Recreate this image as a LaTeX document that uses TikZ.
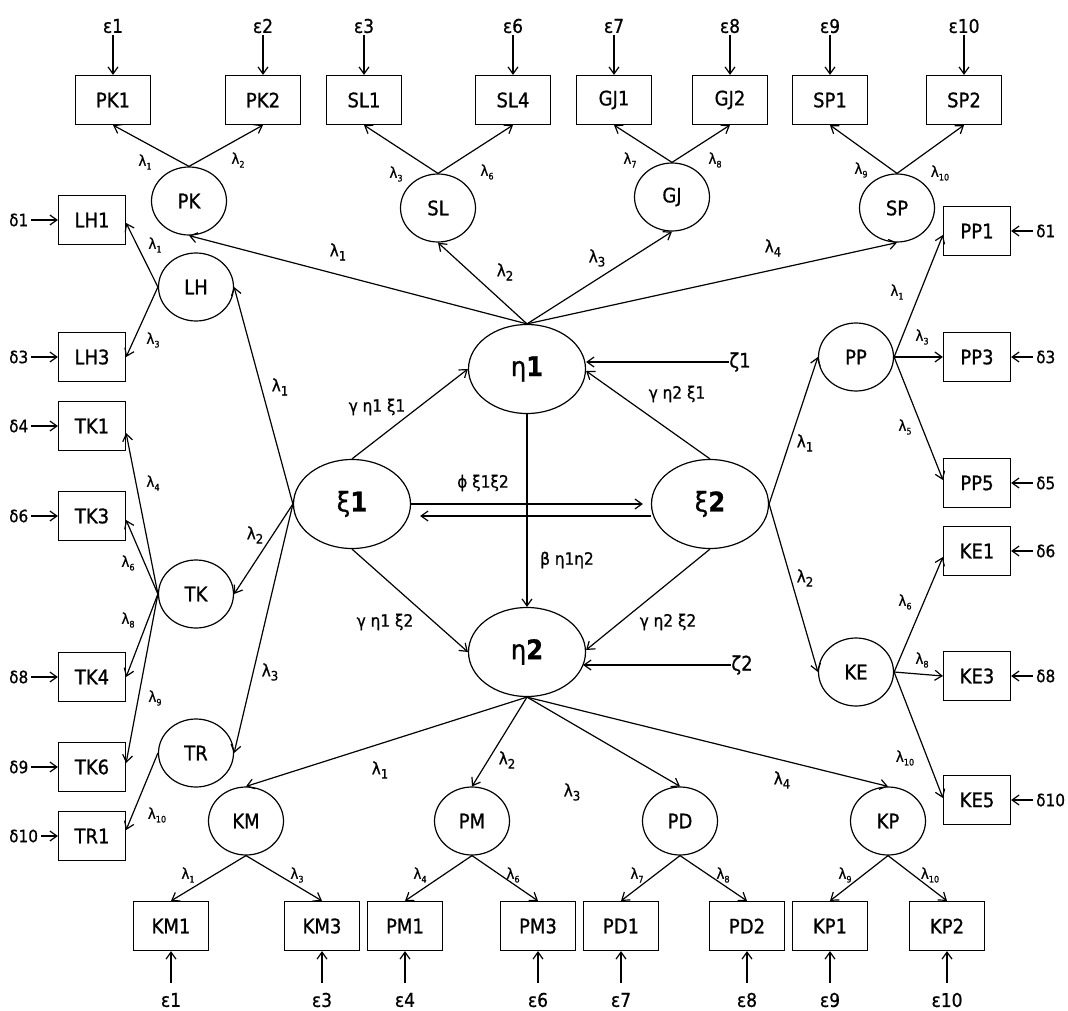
\documentclass[tikz,border=0pt]{standalone}
\usepackage{fontspec}
\setmainfont{DejaVu Sans}[FakeStretch=0.9,FakeBold=0.8]
\usetikzlibrary{shapes.geometric,arrows.meta}
% loading label: lambda with a lowered index
\newcommand\lm[2][9]{λ\raisebox{-0.45ex}{\fontsize{#1}{#1}\selectfont #2}}
\begin{document}
\begin{tikzpicture}[x=1pt,y=-1pt,
  every node/.style={inner sep=0pt, text=black},
  ind/.style={draw, rectangle, line width=1.2pt, minimum width=67pt, minimum height=49pt, font=\fontsize{20}{24}\selectfont},
  indw/.style={ind, minimum width=75pt},
  lat/.style={draw, ellipse, line width=1.2pt, minimum width=75pt, minimum height=68pt, font=\fontsize{20}{24}\selectfont},
  core/.style={draw, ellipse, line width=1.2pt, minimum width=117pt, minimum height=89pt, font=\fontsize{27}{31}\selectfont},
  eps/.style={font=\fontsize{19}{22}\selectfont},
  dlt/.style={font=\fontsize{17}{20}\selectfont},
  lam/.style={font=\fontsize{15}{18}\selectfont},
  lamb/.style={font=\fontsize{17}{20}\selectfont},
  coef/.style={font=\fontsize{17}{20}\selectfont},
  arr/.style={draw, line width=1.2pt, -{Straight Barb[length=7pt,width=10pt]}},
]
\useasboundingbox[fill=white] (0,0) rectangle (1068,1011);

% ---------- structural latent variables ----------
\node[core] (E1) at (527,369) {η\textbf{1}};
\node[core] (E2) at (527,652) {η\textbf{2}};
\node[core] (X1) at (352,504) {ξ\textbf{1}};
\node[core] (X2) at (710,504) {ξ\textbf{2}};
\node[font=\fontsize{20}{24}\selectfont] (Z1) at (740,362) {ζ1};
\node[font=\fontsize{20}{24}\selectfont] (Z2) at (742,665) {ζ2};

% ---------- first-order latent variables ----------
\node[lat] (PK) at (189,201) {PK};
\node[lat] (SL) at (438,208) {SL};
\node[lat] (GJ) at (672,197) {GJ};
\node[lat] (SP) at (897,208) {SP};
\node[lat] (LH) at (196,287) {LH};
\node[lat] (TK) at (196,594) {TK};
\node[lat] (TR) at (196,753) {TR};
\node[lat] (PP) at (856,357) {PP};
\node[lat] (KE) at (856,672) {KE};
\node[lat] (KM) at (246,821) {KM};
\node[lat] (PM) at (472,821) {PM};
\node[lat] (PD) at (680,821) {PD};
\node[lat] (KP) at (888,821) {KP};

% ---------- indicators: top row ----------
\node[indw] (PK1) at (113,100) {PK1};
\node[indw] (PK2) at (263,100) {PK2};
\node[indw] (SL1) at (364,100) {SL1};
\node[indw] (SL4) at (513,100) {SL4};
\node[indw] (GJ1) at (614,100) {GJ1};
\node[indw] (GJ2) at (730,100) {GJ2};
\node[indw] (SP1) at (830,100) {SP1};
\node[indw] (SP2) at (964,100) {SP2};

% ---------- indicators: left column ----------
\node[ind] (LH1) at (92,220) {LH1};
\node[ind] (LH3) at (92,357) {LH3};
\node[ind] (TK1) at (92,426) {TK1};
\node[ind] (TK3) at (92,516) {TK3};
\node[ind] (TK4) at (92,677) {TK4};
\node[ind] (TK6) at (92,767) {TK6};
\node[ind] (TR1) at (92,836) {TR1};

% ---------- indicators: right column ----------
\node[ind] (PP1) at (977,231) {PP1};
\node[ind] (PP3) at (977,357) {PP3};
\node[ind] (PP5) at (977,483) {PP5};
\node[ind] (KE1) at (977,551) {KE1};
\node[ind] (KE3) at (977,676) {KE3};
\node[ind] (KE5) at (977,800) {KE5};

% ---------- indicators: bottom row ----------
\node[indw] (KM1) at (171,926) {KM1};
\node[indw] (KM3) at (322,926) {KM3};
\node[indw] (PM1) at (405,926) {PM1};
\node[indw] (PM3) at (538,926) {PM3};
\node[indw] (PD1) at (621,926) {PD1};
\node[indw] (PD2) at (747,926) {PD2};
\node[indw] (KP1) at (830,926) {KP1};
\node[indw] (KP2) at (947,926) {KP2};

% ---------- error terms ----------
\foreach \b/\t in {PK1/1,PK2/2,SL1/3,SL4/6,GJ1/7,GJ2/8,SP1/9,SP2/10}{
  \node[eps] (et\b) at ([yshift=74pt]\b.center) {ε\t};
  \draw[arr, shorten <=2pt] (et\b) -- (\b);
}
\foreach \b/\t in {KM1/1,KM3/3,PM1/4,PM3/6,PD1/7,PD2/8,KP1/9,KP2/10}{
  \node[eps] (eb\b) at ([yshift=-74pt]\b.center) {ε\t};
  \draw[arr, shorten <=10pt] (eb\b) -- (\b);
}
\foreach \b/\t in {LH1/1,LH3/3,TK1/4,TK3/6,TK4/8,TK6/9,TR1/10}{
  \node[dlt, anchor=west] (dl\b) at ([xshift=-83pt]\b.center) {δ\t};
  \draw[arr, shorten <=3pt] (dl\b) -- (\b);
}
\foreach \b/\t in {PP1/1,PP3/3,PP5/5,KE1/6,KE3/8,KE5/10}{
  \node[dlt, anchor=west] (dr\b) at ([xshift=59pt]\b.center) {δ\t};
  \draw[arr, shorten <=3pt] (dr\b) -- (\b);
}

% ---------- structural paths ----------
\draw[arr] (X1.north) -- (E1.west);
\draw[arr] (X2.north) -- ([yshift=-2pt]E1.east);
\draw[arr] (X1.south) -- (E2.west);
\draw[arr] (X2.south) -- ([yshift=2pt]E2.east);
\draw[arr] (E1.south) -- (E2.north);
\draw[arr] (Z1.west) -- (Z1 -| E1.east);
\draw[arr] (Z2.west) -- ([xshift=-3pt]Z2 -| E2.east);
\draw[arr, shorten >=8pt] (X1.east) -- (X1.east -| X2.west);
\draw[arr, shorten >=9pt] ([yshift=-12pt]X2.west) -- ([yshift=-12pt]X2.west -| X1.east);

\node[coef] at (377,407) {γ η1 ξ1};
\node[coef] at (677,394) {γ η2 ξ1};
\node[coef] at (483,483) {ϕ ξ1ξ2};
\node[coef] at (567,560) {β η1η2};
\node[coef] at (385,622) {γ η1 ξ2};
\node[coef] at (668,622) {γ η2 ξ2};

% ---------- second-order loadings ----------
\draw[arr] (E1.north) -- (PK.south);
\draw[arr] (E1.north) -- (SL.south);
\draw[arr] (E1.north) -- (GJ.south);
\draw[arr] (E1.north) -- (SP.south);
\draw[arr] (X1.west) -- (LH.east);
\draw[arr] (X1.west) -- (TK.east);
\draw[arr] (X1.west) -- (TR.east);
\draw[arr] (X2.east) -- (PP.west);
\draw[arr] (X2.east) -- (KE.west);
\draw[arr] (E2.south) -- (KM.north);
\draw[arr] (E2.south) -- (PM.north);
\draw[arr] (E2.south) -- (PD.north);
\draw[arr] (E2.south) -- (KP.north);

\node[lamb] at (338,252) {\lm[13]{1}};
\node[lamb] at (505,272) {\lm[13]{2}};
\node[lamb] at (597,258) {\lm[13]{3}};
\node[lamb] at (773,248) {\lm[13]{4}};
\node[lamb] at (280,387) {\lm[13]{1}};
\node[lamb] at (255,535) {\lm[13]{2}};
\node[lamb] at (270,672) {\lm[13]{3}};
\node[lamb] at (805,443) {\lm[13]{1}};
\node[lamb] at (805,578) {\lm[13]{2}};
\node[lamb] at (380,770) {\lm[13]{1}};
\node[lamb] at (507,760) {\lm[13]{2}};
\node[lamb] at (572,792) {\lm[13]{3}};
\node[lamb] at (782,780) {\lm[13]{4}};

% ---------- first-order loadings ----------
\draw[arr] (PK.north) -- (PK1.south);
\draw[arr] (PK.north) -- (PK2.south);
\draw[arr] (SL.north) -- (SL1.south);
\draw[arr] (SL.north) -- (SL4.south);
\draw[arr] (GJ.north) -- (GJ1.south);
\draw[arr] (GJ.north) -- (GJ2.south);
\draw[arr] (SP.north) -- (SP1.south);
\draw[arr] (SP.north) -- (SP2.south);
\draw[arr] (LH.west) -- ([yshift=-3pt]LH1.east);
\draw[arr] (LH.west) -- (LH3.east);
\draw[arr] (TK.west) -- ([yshift=-7pt]TK1.east);
\draw[arr] (TK.west) -- ([yshift=-4pt]TK3.east);
\draw[arr] (TK.west) -- (TK4.east);
\draw[arr] (TK.west) -- ([yshift=4pt]TK6.east);
\draw[arr] (TR.west) -- ([yshift=6pt]TR1.east);
\draw[arr] (PP.east) -- ([yshift=-4pt]PP1.west);
\draw[arr] (PP.east) -- (PP3.west);
\draw[arr] (PP.east) -- ([yshift=3pt]PP5.west);
\draw[arr] (KE.east) -- ([yshift=-6pt]KE1.west);
\draw[arr] (KE.east) -- (KE3.west);
\draw[arr] (KE.east) -- ([yshift=2pt]KE5.west);
\draw[arr] (KM.south) -- (KM1.north);
\draw[arr] (KM.south) -- (KM3.north);
\draw[arr] (PM.south) -- (PM1.north);
\draw[arr] (PM.south) -- (PM3.north);
\draw[arr] (PD.south) -- (PD1.north);
\draw[arr] (PD.south) -- (PD2.north);
\draw[arr] (KP.south) -- (KP1.north);
\draw[arr] (KP.south) -- (KP2.north);

\node[lam] at (145,162) {\lm{1}};
\node[lam] at (238,160) {\lm{2}};
\node[lam] at (396,174) {\lm{3}};
\node[lam] at (487,172) {\lm{6}};
\node[lam] at (630,160) {\lm{7}};
\node[lam] at (715,160) {\lm{8}};
\node[lam] at (861,170) {\lm{9}};
\node[lam] at (940,173) {\lm{10}};
\node[lam] at (155,245) {\lm{1}};
\node[lam] at (153,340) {\lm{3}};
\node[lam] at (153,483) {\lm{4}};
\node[lam] at (128,563) {\lm{6}};
\node[lam] at (128,620) {\lm{8}};
\node[lam] at (155,698) {\lm{9}};
\node[lam] at (157,815) {\lm{10}};
\node[lam] at (897,292) {\lm{1}};
\node[lam] at (922,337) {\lm{3}};
\node[lam] at (905,427) {\lm{5}};
\node[lam] at (905,602) {\lm{6}};
\node[lam] at (922,660) {\lm{8}};
\node[lam] at (905,758) {\lm{10}};
\node[lam] at (188,875) {\lm{1}};
\node[lam] at (297,875) {\lm{3}};
\node[lam] at (420,875) {\lm{4}};
\node[lam] at (513,875) {\lm{6}};
\node[lam] at (637,875) {\lm{7}};
\node[lam] at (723,875) {\lm{8}};
\node[lam] at (845,875) {\lm{9}};
\node[lam] at (930,875) {\lm{10}};
\end{tikzpicture}
\end{document}
